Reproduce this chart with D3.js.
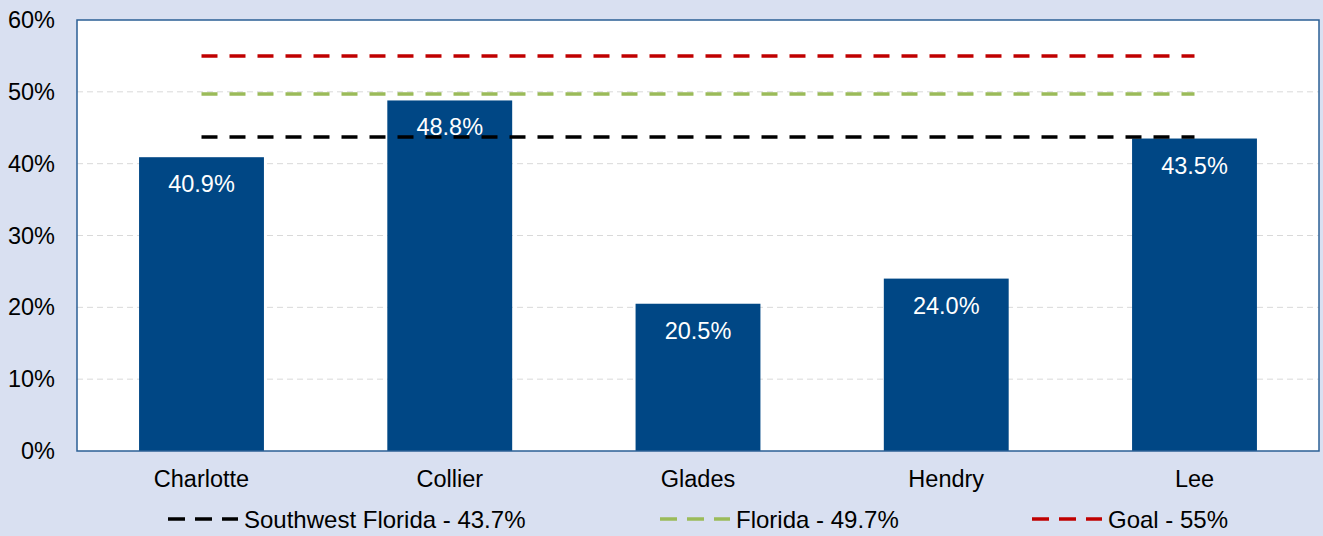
<!DOCTYPE html>
<html><head><meta charset="utf-8">
<script src="https://cdn.jsdelivr.net/npm/d3@7"></script>
<style>
html,body{margin:0;padding:0;background:#d9e0f1;}
svg{display:block;font-family:"Liberation Sans",Arial,sans-serif;}
</style></head><body>
<svg id="c" width="1323" height="536"></svg>
<script>
const categories = ["Charlotte","Collier","Glades","Hendry","Lee"];
const values = [40.9, 48.8, 20.5, 24.0, 43.5];
const refNames = ["Southwest Florida - 43.7%","Florida - 49.7%","Goal - 55%"];
const refValues = [43.7, 49.7, 55];
const refColors = ["#000000","#9bbb59","#c00000"];
const yTicks = [0,10,20,30,40,50,60];

const svg = d3.select("#c");
const W = 1323, H = 536;
const m = {l:77, r:4, t:20, b:85};
const x = d3.scaleBand().domain(categories).range([m.l, W-m.r]).paddingInner(0.497).paddingOuter(0.25);
const y = d3.scaleLinear().domain([0,60]).range([H-m.b, m.t]);

svg.append("rect").attr("width",W).attr("height",H).attr("fill","#d9e0f1");
svg.append("rect").attr("x",m.l).attr("y",m.t).attr("width",W-m.r-m.l).attr("height",H-m.b-m.t).attr("fill","#fff");

// grid
svg.append("g").selectAll("line").data(yTicks.filter(d=>d>0&&d<60)).join("line")
  .attr("x1",m.l).attr("x2",W-m.r).attr("y1",d=>y(d)).attr("y2",d=>y(d))
  .attr("stroke","#d9d9d9").attr("stroke-width",1).attr("stroke-dasharray","6,4");

// bars
svg.append("g").selectAll("rect").data(values).join("rect")
  .attr("x",(d,i)=>x(categories[i])).attr("width",x.bandwidth())
  .attr("y",d=>y(d)).attr("height",d=>y(0)-y(d)).attr("fill","#004785");

// reference lines
const x0 = x(categories[0]) + x.bandwidth()/2;
const x1 = x(categories[categories.length-1]) + x.bandwidth()/2;
svg.append("g").selectAll("line").data(refValues).join("line")
  .attr("x1",x0).attr("x2",x1).attr("y1",d=>y(d)).attr("y2",d=>y(d))
  .attr("stroke",(d,i)=>refColors[i]).attr("stroke-width",3.5)
  .attr("stroke-dasharray","16,12");

// labels
svg.append("g").selectAll("text").data(values).join("text")
  .attr("x",(d,i)=>x(categories[i])+x.bandwidth()/2).attr("y",d=>y(d)+35)
  .attr("text-anchor","middle").attr("fill","#fff").attr("font-size",23.5)
  .text(d=>d.toFixed(1)+"%");

// border
svg.append("rect").attr("x",m.l).attr("y",m.t).attr("width",W-m.r-m.l).attr("height",H-m.b-m.t)
  .attr("fill","none").attr("stroke","#2b5f95").attr("stroke-width",1.5);

// y axis labels
svg.append("g").selectAll("text").data(yTicks).join("text")
  .attr("x",55).attr("y",d=>y(d)+8).attr("text-anchor","end").attr("font-size",23.5).attr("fill","#000")
  .text(d=>d+"%");

// x labels
svg.append("g").selectAll("text").data(categories).join("text")
  .attr("x",d=>x(d)+x.bandwidth()/2).attr("y",487).attr("text-anchor","middle").attr("font-size",23.5).attr("fill","#000")
  .text(d=>d);

// legend
const legX = [168, 660, 1032];
const lg = svg.append("g").selectAll("g").data(refNames).join("g")
  .attr("transform",(d,i)=>`translate(${legX[i]},519)`);
lg.append("line").attr("x1",0).attr("x2",70).attr("y1",0).attr("y2",0)
  .attr("stroke",(d,i)=>refColors[i]).attr("stroke-width",3.5).attr("stroke-dasharray","17,10");
lg.append("text").attr("x",76).attr("y",9).attr("font-size",24).attr("fill","#000").text(d=>d);
</script>
</body></html>
